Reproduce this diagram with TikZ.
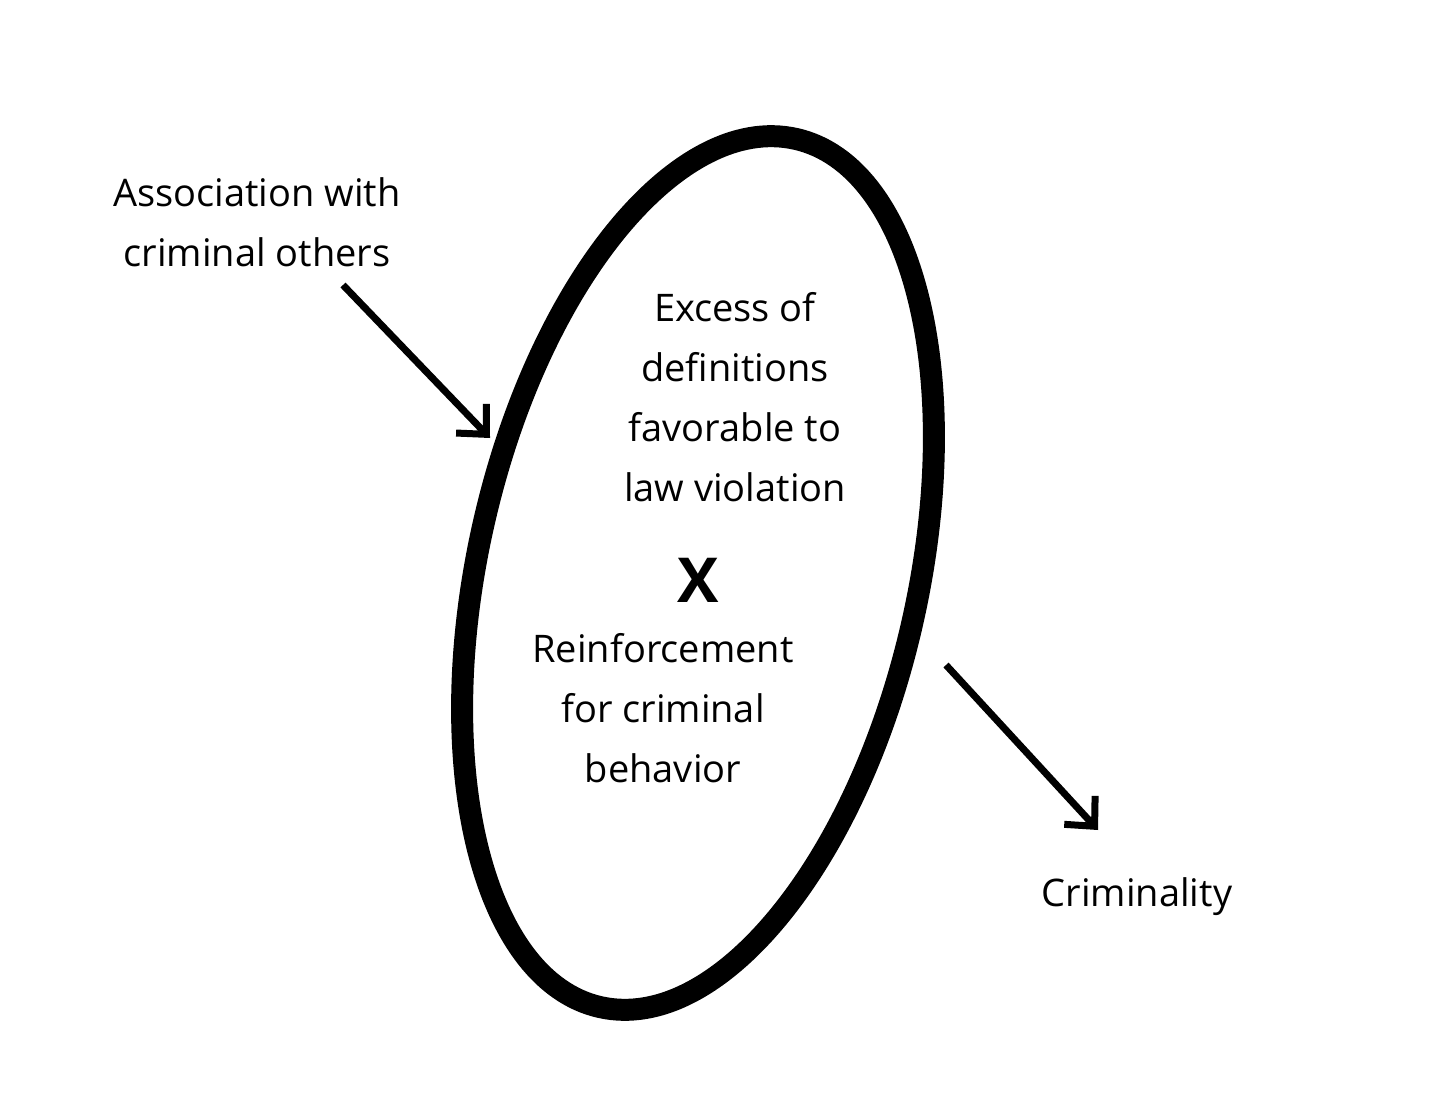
\documentclass[tikz,border=0pt]{standalone}
\usepackage{fontspec}
\setmainfont{Open Sans}
\usetikzlibrary{arrows.meta}
\begin{document}
\begin{tikzpicture}[x=1pt,y=-1pt,
  lbl/.style={align=center,font=\fontsize{38}{60}\selectfont,inner sep=0pt},
  arr/.style={line width=7pt,-{Straight Barb[length=22pt,width=42pt,line width=7pt]}}]
\useasboundingbox[fill=white] (0,0) rectangle (1440,1111);
\draw[line width=22pt,rotate around={-12.7:(698,573)}] (698,573) ellipse [x radius=220,y radius=445];
\node[lbl] (assoc) at (257,222) {Association with\\criminal others};
\node[lbl] (excess) at (735,397) {Excess of\\definitions\\favorable to\\law violation};
\node[inner sep=0pt,font=\fontsize{62}{62}\selectfont\bfseries] (x) at (698,580) {X};
\node[lbl] (reinf) at (663,708) {Reinforcement\\for criminal\\behavior};
\node[lbl] (crim) at (1137,897) {Criminality};
\coordinate (a1) at (343,285); \coordinate (a2) at (490,438);
\coordinate (b1) at (946,665); \coordinate (b2) at (1098,830);
\draw[arr] (a1) -- (a2);
\draw[arr] (b1) -- (b2);
\end{tikzpicture}
\end{document}
